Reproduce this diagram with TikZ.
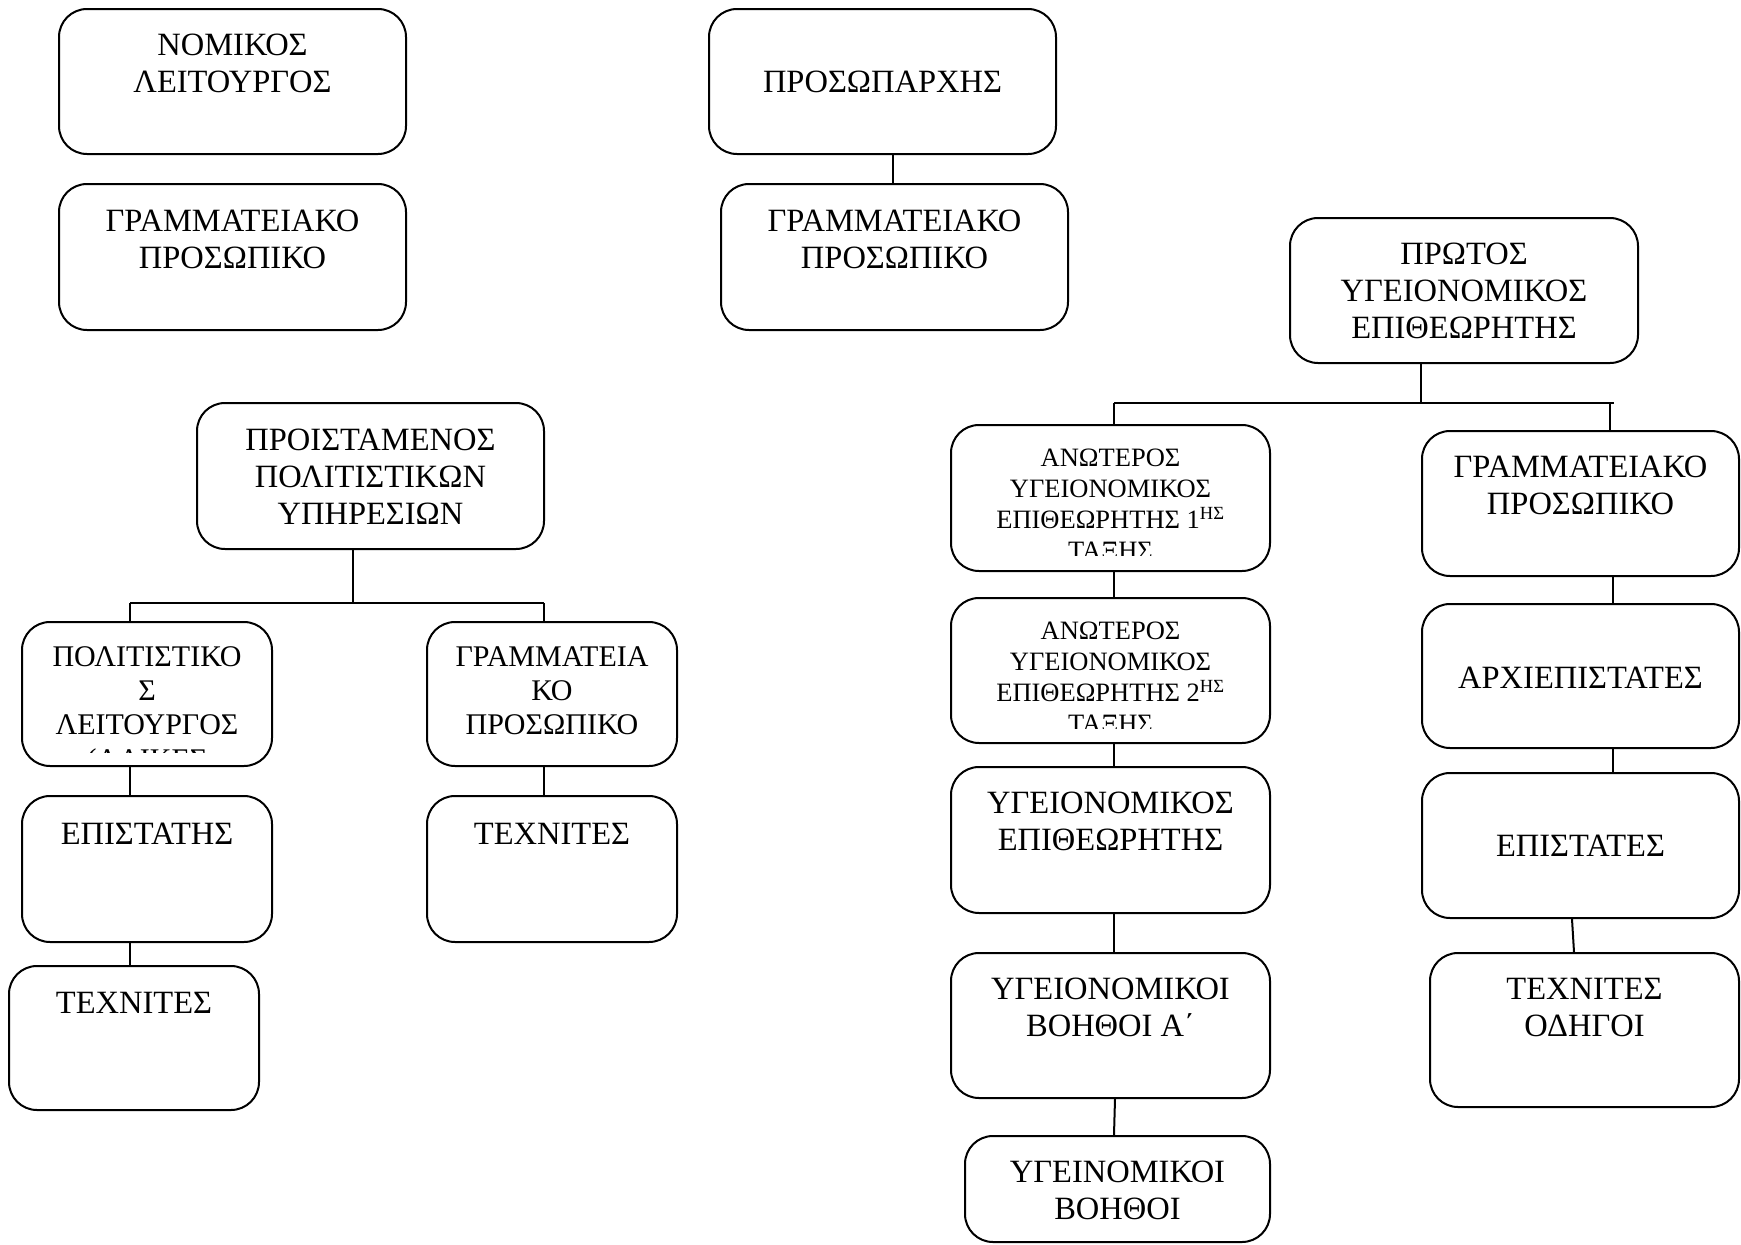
\documentclass[tikz,border=0pt]{standalone}
\usepackage{fontspec}
\setmainfont{Liberation Serif}
\tikzset{
  orgbox/.style={draw, line width=2pt, rounded corners=28pt, inner sep=0pt, rectangle},
  lbl/.style={inner sep=0pt, align=center, anchor=north,
    font=\fontsize{32.5}{37}\selectfont, execute at begin node={\rule{0pt}{24pt}}},
  lblmid/.style={lbl, font=\fontsize{30}{34.4}\selectfont},
  lblsmall/.style={lbl, font=\fontsize{26.5}{31}\selectfont},
  link/.style={line width=2pt},
}
% \orgbox{name}{x1}{y1}{x2}{y2}: a rounded box between two corners (pixel units)
\newcommand\orgbox[5]{%
  \node[orgbox, minimum width={(#4-#2)*1pt}, minimum height={(#5-#3)*1pt}]
    (#1) at ({(#2+#4)/2},{(#3+#5)/2}) {};}
\begin{document}
\begin{tikzpicture}[x=1pt, y=-1pt]
\useasboundingbox (0,0) rectangle (1741,1245);

% ---- boxes ----
\orgbox{nomikos}{59}{9}{406}{154}
\orgbox{gramL}{59}{184}{406}{330}
\orgbox{prosop}{709}{9}{1056}{154}
\orgbox{gramM}{721}{184}{1068}{330}
\orgbox{protos}{1290}{218}{1638}{363}
\orgbox{proist}{197}{403}{544}{549}
\orgbox{polit}{22}{622}{272}{766}
\orgbox{gramKO}{427}{622}{677}{766}
\orgbox{epistatis}{22}{796}{272}{942}
\orgbox{technR}{427}{796}{677}{942}
\orgbox{technL}{9}{966}{259}{1110}
\orgbox{anot1}{951}{425}{1270}{571}
\orgbox{anot2}{951}{598}{1270}{743}
\orgbox{ygepi}{951}{767}{1270}{913}
\orgbox{voithA}{951}{953}{1270}{1098}
\orgbox{voith}{965}{1136}{1270}{1242}
\orgbox{gramR}{1422}{431}{1739}{576}
\orgbox{archi}{1422}{604}{1739}{748}
\orgbox{epistates}{1422}{773}{1739}{918}
\orgbox{techOd}{1430}{953}{1739}{1107}

% ---- labels ----
\node[lbl] (t-nomikos) at ([yshift=-26pt]nomikos.north) {ΝΟΜΙΚΟΣ\\ΛΕΙΤΟΥΡΓΟΣ};
\node[lbl] (t-gramL) at ([yshift=-27pt]gramL.north) {ΓΡΑΜΜΑΤΕΙΑΚΟ\\ΠΡΟΣΩΠΙΚΟ};
\node[lbl] (t-prosop) at ([yshift=-60pt]prosop.north) {ΠΡΟΣΩΠΑΡΧΗΣ};
\node[lbl] (t-gramM) at ([yshift=-27pt]gramM.north) {ΓΡΑΜΜΑΤΕΙΑΚΟ\\ΠΡΟΣΩΠΙΚΟ};
\node[lbl] (t-protos) at ([yshift=-26pt]protos.north) {ΠΡΩΤΟΣ\\ΥΓΕΙΟΝΟΜΙΚΟΣ\\ΕΠΙΘΕΩΡΗΤΗΣ};
\node[lbl] (t-proist) at ([yshift=-27pt]proist.north) {ΠΡΟΙΣΤΑΜΕΝΟΣ\\ΠΟΛΙΤΙΣΤΙΚΩΝ\\ΥΠΗΡΕΣΙΩΝ};
\begin{scope}
  \clip (22,622) rectangle (272,752);
  \node[lblmid] (t-polit) at ([yshift=-25pt]polit.north) {ΠΟΛΙΤΙΣΤΙΚΟ\\Σ\\ΛΕΙΤΟΥΡΓΟΣ\\(ΛΑΙΚΕΣ};
\end{scope}
\node[lblmid] (t-gramKO) at ([yshift=-25pt]gramKO.north) {ΓΡΑΜΜΑΤΕΙΑ\\ΚΟ\\ΠΡΟΣΩΠΙΚΟ};
\node[lbl] (t-epistatis) at ([yshift=-25.5pt]epistatis.north) {ΕΠΙΣΤΑΤΗΣ};
\node[lbl] (t-technR) at ([yshift=-25.5pt]technR.north) {ΤΕΧΝΙΤΕΣ};
\node[lbl] (t-technL) at ([yshift=-24.5pt]technL.north) {ΤΕΧΝΙΤΕΣ};
\begin{scope}
  \clip (951,425) rectangle (1270,555);
  \node[lblsmall] (t-anot1) at ([yshift=-24.5pt]anot1.north) {ΑΝΩΤΕΡΟΣ\\ΥΓΕΙΟΝΟΜΙΚΟΣ\\ΕΠΙΘΕΩΡΗΤΗΣ 1\textsuperscript{ΗΣ}\\ΤΑΞΗΣ};
\end{scope}
\begin{scope}
  \clip (951,598) rectangle (1270,728);
  \node[lblsmall] (t-anot2) at ([yshift=-24.5pt]anot2.north) {ΑΝΩΤΕΡΟΣ\\ΥΓΕΙΟΝΟΜΙΚΟΣ\\ΕΠΙΘΕΩΡΗΤΗΣ 2\textsuperscript{ΗΣ}\\ΤΑΞΗΣ};
\end{scope}
\node[lbl] (t-ygepi) at ([yshift=-26pt]ygepi.north) {ΥΓΕΙΟΝΟΜΙΚΟΣ\\ΕΠΙΘΕΩΡΗΤΗΣ};
\node[lbl] (t-voithA) at ([yshift=-26pt]voithA.north) {ΥΓΕΙΟΝΟΜΙΚΟΙ\\ΒΟΗΘΟΙ Α΄};
\node[lbl] (t-voith) at ([yshift=-25.5pt]voith.north) {ΥΓΕΙΝΟΜΙΚΟΙ\\ΒΟΗΘΟΙ};
\node[lbl] (t-gramR) at ([yshift=-25.5pt]gramR.north) {ΓΡΑΜΜΑΤΕΙΑΚΟ\\ΠΡΟΣΩΠΙΚΟ};
\node[lbl] (t-archi) at ([yshift=-61pt]archi.north) {ΑΡΧΙΕΠΙΣΤΑΤΕΣ};
\node[lbl] (t-epistates) at ([yshift=-60pt]epistates.north) {ΕΠΙΣΤΑΤΕΣ};
\node[lbl] (t-techOd) at ([yshift=-26pt]techOd.north) {ΤΕΧΝΙΤΕΣ\\ΟΔΗΓΟΙ};

% ---- connectors ----
\draw[link] (prosop.south -| 893,0) -- (gramM.north -| 893,0);

\coordinate (pj) at (353,603);
\draw[link] (proist.south -| pj) -- (pj);
\draw[link] (130,603) -- (544,603);
\draw[link] (130,603) -- (polit.north -| 130,0);
\draw[link] (544,603) -- (gramKO.north -| 544,0);
\draw[link] (polit.south -| 130,0) -- (epistatis.north -| 130,0);
\draw[link] (epistatis.south -| 130,0) -- (technL.north -| 130,0);
\draw[link] (gramKO.south -| 544,0) -- (technR.north -| 544,0);

\coordinate (rj) at (1421,403);
\draw[link] (protos.south -| rj) -- (rj);
\draw[link] (1114,403) -- (1614,403);
\draw[link] (1114,403) -- (anot1.north -| 1114,0);
\draw[link] (1610,403) -- (gramR.north -| 1610,0);
\draw[link] (anot1.south -| 1114,0) -- (anot2.north -| 1114,0);
\draw[link] (anot2.south -| 1114,0) -- (ygepi.north -| 1114,0);
\draw[link] (ygepi.south -| 1114,0) -- (voithA.north -| 1114,0);
\draw[link] (voithA.south -| 1115,0) -- (voith.north -| 1114,0);
\draw[link] (gramR.south -| 1613,0) -- (archi.north -| 1613,0);
\draw[link] (archi.south -| 1613,0) -- (epistates.north -| 1613,0);
\draw[link] (epistates.south -| 1572,0) -- (techOd.north -| 1574,0);
\end{tikzpicture}
\end{document}
